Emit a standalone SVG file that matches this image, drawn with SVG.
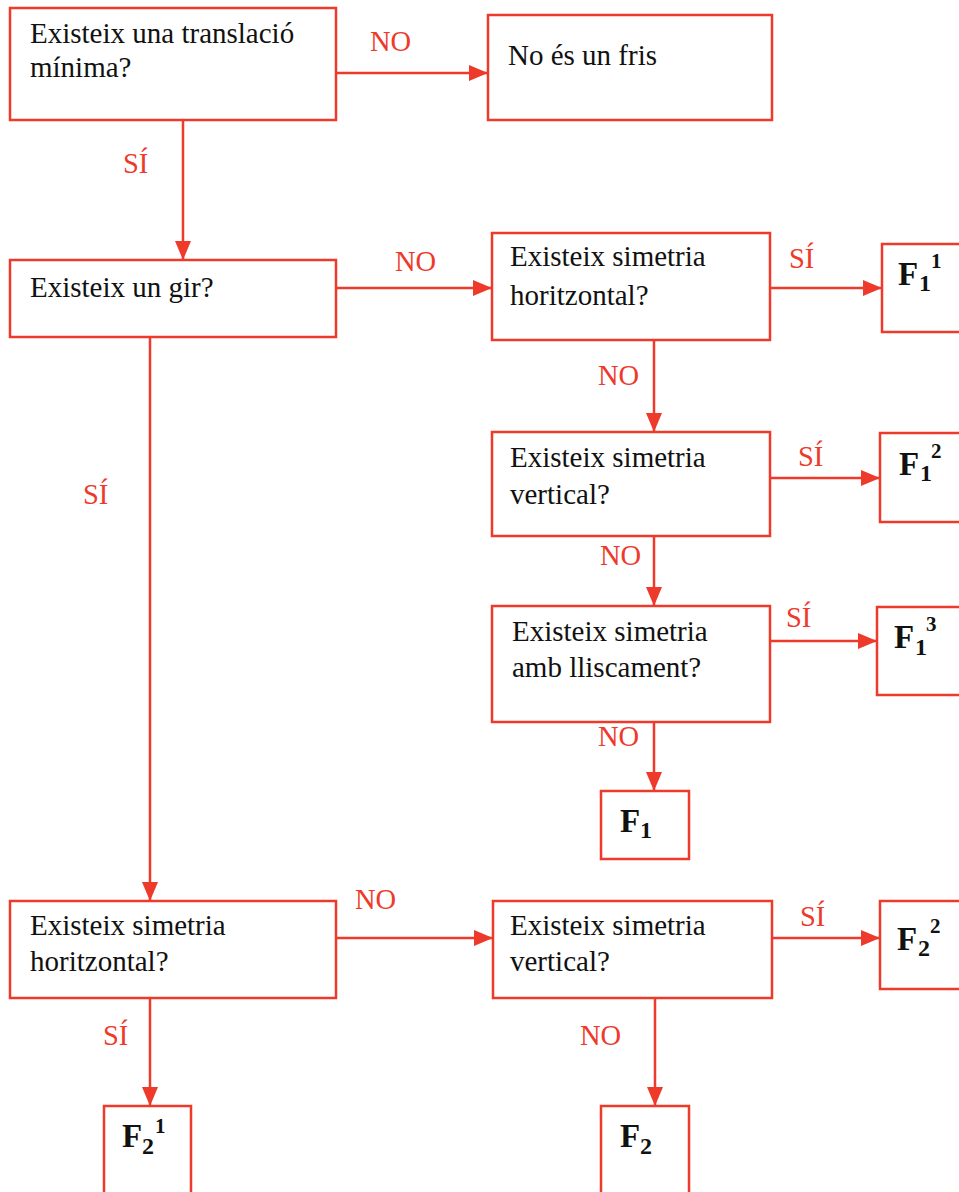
<svg xmlns="http://www.w3.org/2000/svg" width="959" height="1192" viewBox="0 0 959 1192">
<defs>
<marker id="ah" markerUnits="userSpaceOnUse" markerWidth="22" markerHeight="18" refX="19" refY="8" orient="auto">
<path d="M0,0 L19,8 L0,16 Z" fill="#EE3A2B"/>
</marker>
<style>
.box{fill:#fff;stroke:#EE3A2B;stroke-width:2.5}
.t{font-family:"Liberation Serif","Times New Roman",serif;font-size:29px;fill:#111}
.lb{font-family:"Liberation Serif","Times New Roman",serif;font-size:28.5px;fill:#EE3A2B}
.f{font-family:"Liberation Serif","Times New Roman",serif;font-weight:bold;fill:#111}
.c{fill:none;stroke:#EE3A2B;stroke-width:2.5}
</style>
</defs>
<rect width="959" height="1192" fill="#fff"/>
<g id="connectors">
<line class="c" x1="336" y1="73" x2="488" y2="73" marker-end="url(#ah)"/>
<line class="c" x1="183" y1="120" x2="183" y2="260" marker-end="url(#ah)"/>
<line class="c" x1="336" y1="288" x2="492" y2="288" marker-end="url(#ah)"/>
<line class="c" x1="770" y1="288" x2="882" y2="288" marker-end="url(#ah)"/>
<line class="c" x1="654" y1="340" x2="654" y2="432" marker-end="url(#ah)"/>
<line class="c" x1="770" y1="478" x2="880" y2="478" marker-end="url(#ah)"/>
<line class="c" x1="654" y1="536" x2="654" y2="606" marker-end="url(#ah)"/>
<line class="c" x1="770" y1="641" x2="877" y2="641" marker-end="url(#ah)"/>
<line class="c" x1="654" y1="722" x2="654" y2="791" marker-end="url(#ah)"/>
<line class="c" x1="150" y1="337" x2="150" y2="901" marker-end="url(#ah)"/>
<line class="c" x1="336" y1="938" x2="493" y2="938" marker-end="url(#ah)"/>
<line class="c" x1="768" y1="938" x2="880" y2="938" marker-end="url(#ah)"/>
<line class="c" x1="150" y1="998" x2="150" y2="1106" marker-end="url(#ah)"/>
<line class="c" x1="655" y1="998" x2="655" y2="1106" marker-end="url(#ah)"/>
<text class="lb" x="370" y="51">NO</text>
<text class="lb" x="123" y="173">SÍ</text>
<text class="lb" x="395" y="271">NO</text>
<text class="lb" x="789" y="268">SÍ</text>
<text class="lb" x="598" y="385">NO</text>
<text class="lb" x="798" y="466">SÍ</text>
<text class="lb" x="600" y="565">NO</text>
<text class="lb" x="786" y="627">SÍ</text>
<text class="lb" x="598" y="746">NO</text>
<text class="lb" x="83" y="504">SÍ</text>
<text class="lb" x="355" y="909">NO</text>
<text class="lb" x="800" y="926">SÍ</text>
<text class="lb" x="103" y="1045">SÍ</text>
<text class="lb" x="580" y="1045">NO</text>
</g>
<g id="n1"><rect class="box" x="10" y="8" width="326" height="112"/><text class="t" x="30" y="43">Existeix una translació</text><text class="t" x="30" y="77">mínima?</text></g>
<g id="n2"><rect class="box" x="488" y="15" width="284" height="105"/><text class="t" x="508" y="65">No és un fris</text></g>
<g id="n3"><rect class="box" x="10" y="260" width="326" height="77"/><text class="t" x="30" y="297">Existeix un gir?</text></g>
<g id="n4"><rect class="box" x="492" y="233" width="278" height="107"/><text class="t" x="510" y="266">Existeix simetria</text><text class="t" x="510" y="305">horitzontal?</text></g>
<g id="n5"><rect class="box" x="882" y="244" width="90" height="88"/><text class="f" x="898" y="285" font-size="33">F</text><text class="f" x="919" y="291" font-size="24">1</text><text class="f" x="931" y="268" font-size="21">1</text></g>
<g id="n6"><rect class="box" x="492" y="432" width="278" height="104"/><text class="t" x="510" y="467">Existeix simetria</text><text class="t" x="510" y="504">vertical?</text></g>
<g id="n7"><rect class="box" x="880" y="433" width="90" height="89"/><text class="f" x="899" y="475" font-size="33">F</text><text class="f" x="920" y="481" font-size="24">1</text><text class="f" x="931" y="458" font-size="21">2</text></g>
<g id="n8"><rect class="box" x="492" y="606" width="278" height="116"/><text class="t" x="512" y="641">Existeix simetria</text><text class="t" x="512" y="677">amb lliscament?</text></g>
<g id="n9"><rect class="box" x="877" y="607" width="90" height="88"/><text class="f" x="894" y="648" font-size="33">F</text><text class="f" x="915" y="655" font-size="24">1</text><text class="f" x="926" y="631" font-size="21">3</text></g>
<g id="n10"><rect class="box" x="601" y="791" width="88" height="68"/><text class="f" x="620" y="832" font-size="33">F</text><text class="f" x="640" y="838" font-size="24">1</text></g>
<g id="n11"><rect class="box" x="10" y="901" width="326" height="97"/><text class="t" x="30" y="935">Existeix simetria</text><text class="t" x="30" y="971">horitzontal?</text></g>
<g id="n12"><rect class="box" x="493" y="901" width="279" height="97"/><text class="t" x="510" y="935">Existeix simetria</text><text class="t" x="510" y="971">vertical?</text></g>
<g id="n13"><rect class="box" x="880" y="901" width="90" height="88"/><text class="f" x="897" y="950" font-size="33">F</text><text class="f" x="918" y="956" font-size="24">2</text><text class="f" x="930" y="933" font-size="21">2</text></g>
<g id="n14"><rect class="box" x="104" y="1106" width="87" height="100"/><text class="f" x="122" y="1147" font-size="33">F</text><text class="f" x="142" y="1154" font-size="24">2</text><text class="f" x="155" y="1133" font-size="21">1</text></g>
<g id="n15"><rect class="box" x="601" y="1106" width="88" height="100"/><text class="f" x="620" y="1147" font-size="33">F</text><text class="f" x="640" y="1154" font-size="24">2</text></g>
</svg>
